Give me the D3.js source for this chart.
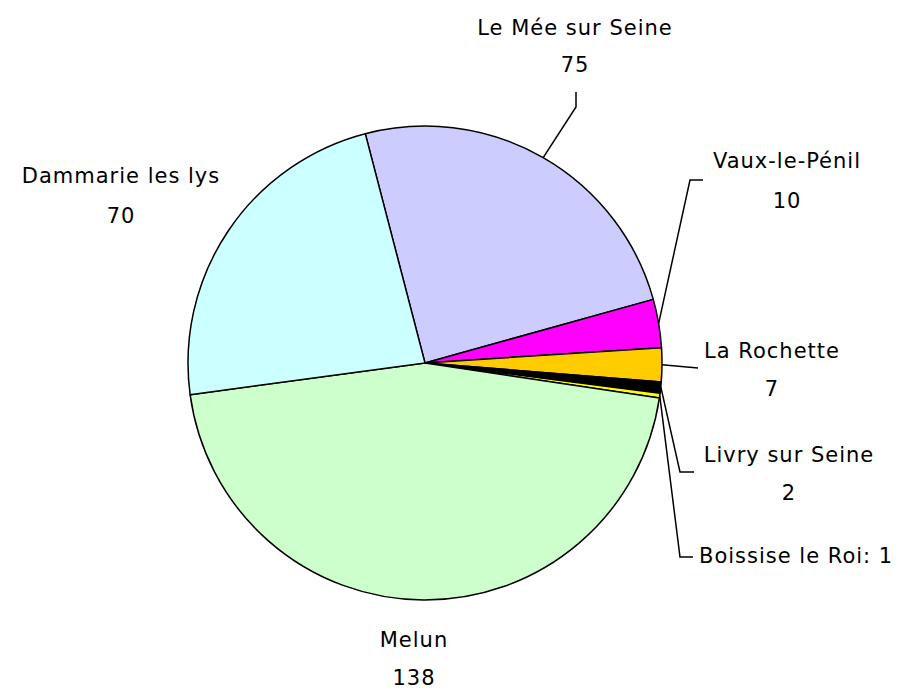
<!DOCTYPE html>
<html>
<head>
<meta charset="utf-8">
<script src="https://cdn.jsdelivr.net/npm/d3@7"></script>
<style>
  body { margin: 0; background: #fff; }
  text { font-family: "Comic Sans MS", "DejaVu Sans", sans-serif; font-size: 21px; fill: #000; letter-spacing: 1px; }
</style>
</head>
<body>
<script>
// slices, clockwise from the Dammarie / Le Mee border
var towns  = ["Le Mée sur Seine", "Vaux-le-Pénil", "La Rochette", "Livry sur Seine", "", "Boissise le Roi", "Melun", "Dammarie les lys"];
var counts = [75, 10, 7, 2, 0.3, 1, 138, 70];
var colors = ["#ccccff", "#ff00ff", "#ffcc00", "#000000", "#00ff00", "#ffff00", "#ccffcc", "#ccffff"];

var width = 902, height = 692;
var cx = 425, cy = 363, radius = 237;
var startDeg = -14.6;

var svg = d3.select("body").append("svg").attr("width", width).attr("height", height);

var pie = d3.pie().sort(null).value(function(d){ return d.v; })
            .startAngle(startDeg * Math.PI / 180)
            .endAngle((startDeg + 360) * Math.PI / 180);

var data = towns.map(function(t, i){ return {name: t, v: counts[i], color: colors[i]}; });
var arcs = pie(data);

var arc = d3.arc().innerRadius(0).outerRadius(radius);

var chartGroup = svg.append("g").attr("transform", "translate(" + cx + "," + cy + ")");

chartGroup.selectAll("path.slice")
          .data(arcs)
          .enter().append("path")
          .attr("class", "slice")
          .attr("d", arc)
          .attr("fill", function(d){ return d.data.color; })
          .attr("stroke", "#000")
          .attr("stroke-width", 1.5)
          .attr("stroke-linejoin", "round");

// label placement (name line, value line, leader elbow)
var labelPos = {
  "Le Mée sur Seine": {x: 575, y: 35, dy: 37, anchor: "middle", elbow: [[576, 107], [576, 92]]},
  "Vaux-le-Pénil":    {x: 787, y: 168, dy: 40, anchor: "middle", elbow: [[690, 180], [703, 180]]},
  "La Rochette":      {x: 772, y: 358, dy: 38, anchor: "middle", elbow: [[698, 368]]},
  "Livry sur Seine":  {x: 789, y: 462, dy: 38, anchor: "middle", elbow: [[680, 472], [694, 472]]},
  "Boissise le Roi":  {x: 699, y: 563, dy: 0, anchor: "start", inline: true, elbow: [[680, 557], [693, 557]]},
  "Melun":            {x: 414, y: 647, dy: 38, anchor: "middle"},
  "Dammarie les lys": {x: 121, y: 183, dy: 40, anchor: "middle"}
};

function edgePoint(d) {
  var a = (d.startAngle + d.endAngle) / 2;
  return [cx + radius * Math.sin(a), cy - radius * Math.cos(a)];
}

var line = d3.line();
var labelGroup = svg.append("g");

arcs.forEach(function(d) {
  var p = labelPos[d.data.name];
  if (!p) return;
  if (p.elbow) {
    var pts = [edgePoint(d)].concat(p.elbow);
    labelGroup.append("path")
              .attr("d", line(pts))
              .attr("fill", "none")
              .attr("stroke", "#000")
              .attr("stroke-width", 1.5);
  }
  if (p.inline) {
    labelGroup.append("text").attr("x", p.x).attr("y", p.y)
              .attr("text-anchor", p.anchor)
              .text(d.data.name + ": " + d.data.v);
  } else {
    labelGroup.append("text").attr("x", p.x).attr("y", p.y)
              .attr("text-anchor", p.anchor)
              .text(d.data.name);
    labelGroup.append("text").attr("x", p.x).attr("y", p.y + p.dy)
              .attr("text-anchor", p.anchor)
              .text(d.data.v);
  }
});
</script>
</body>
</html>
